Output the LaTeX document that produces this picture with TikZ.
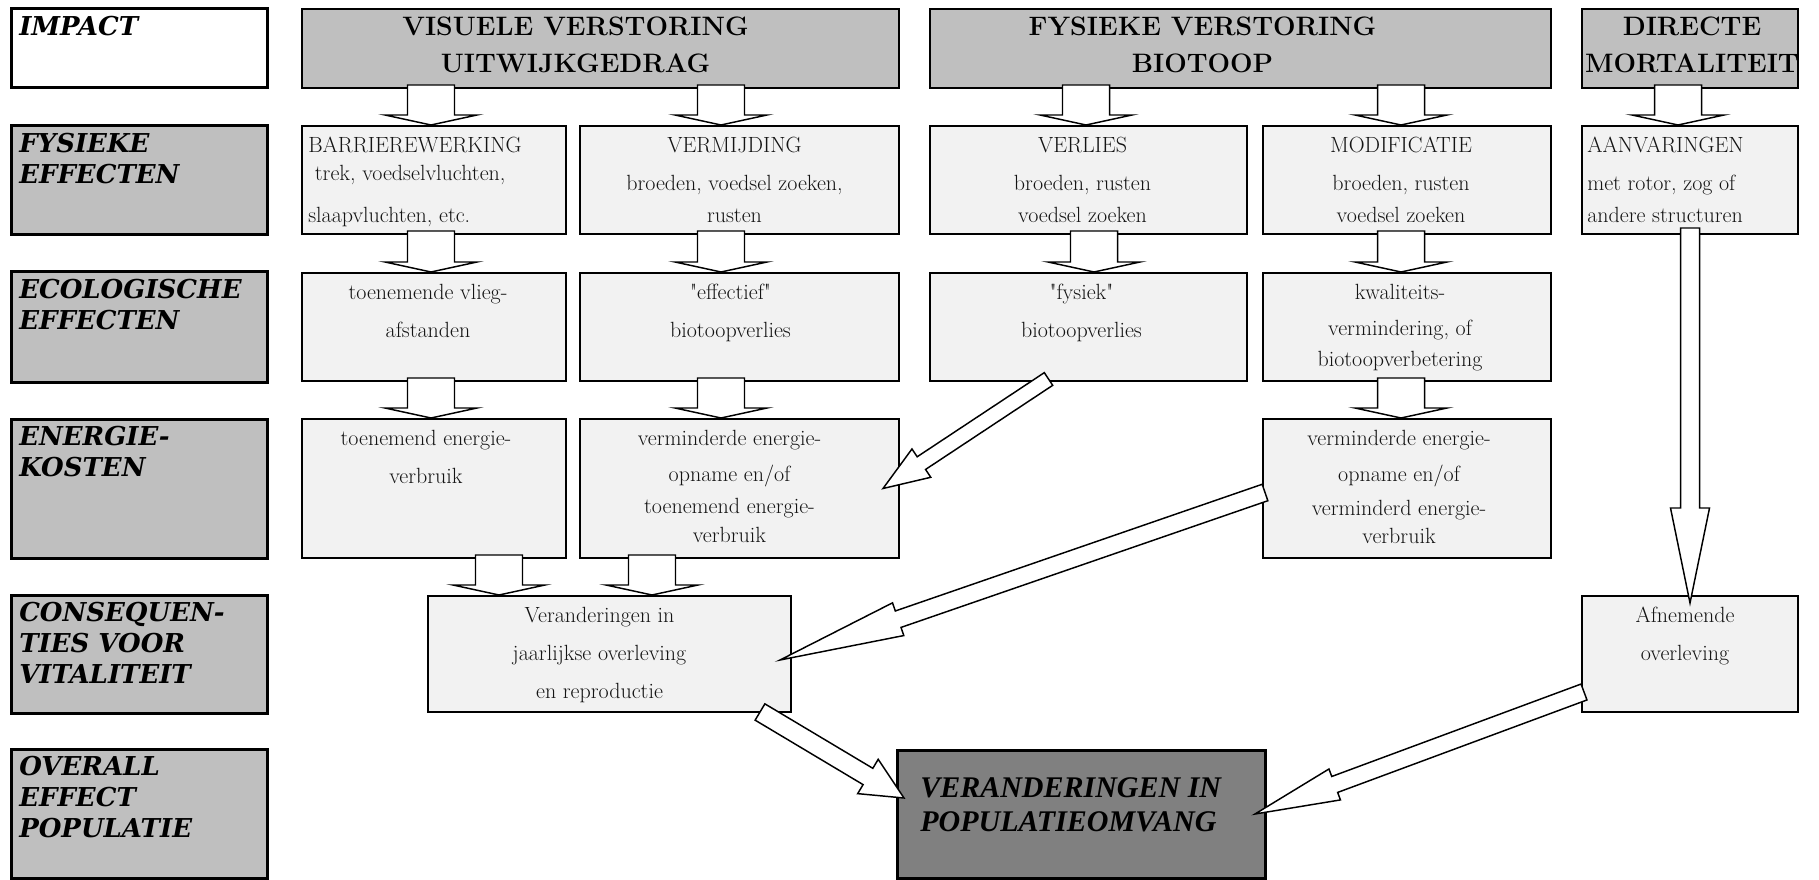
\documentclass[tikz,border=0pt]{standalone}
\usepackage{fontspec}
\usepackage{xcolor}
\usetikzlibrary{calc,fit}

\newfontfamily\labelfont{DejaVu Serif}
\newfontfamily\popfont{Liberation Serif}

\definecolor{boxgray}{RGB}{191,191,191}
\definecolor{cellgray}{RGB}{242,242,242}
\definecolor{popgray}{RGB}{128,128,128}
\definecolor{inkgray}{RGB}{20,20,20}

%Block arrow: tail, tip, half shaft, half head, head length (px)
\newcommand{\blockarrow}[5]{%
  \coordinate (ba-a) at #1;
  \coordinate (ba-b) at #2;
  \coordinate (ba-h) at ($(ba-b)!#5*0.75pt!(ba-a)$);
  \draw [hollow] ($(ba-a)!#3*0.75pt!90:(ba-b)$) -- ($(ba-h)!#3*0.75pt!90:(ba-b)$) -- ($(ba-h)!#4*0.75pt!90:(ba-b)$) -- (ba-b) -- ($(ba-h)!#4*0.75pt!-90:(ba-b)$) -- ($(ba-h)!#3*0.75pt!-90:(ba-b)$) -- ($(ba-a)!#3*0.75pt!-90:(ba-b)$) -- cycle ;}
%Short down arrow: upper node, lower node, x offset from lower centre
\newcommand{\dnarrow}[3]{%
  \coordinate (da-b) at ($(#2.north)+(#3,-1)$);
  \blockarrow{($(da-b |- #1.south)+(0,-3)$)}{(da-b)}{23.5}{46}{10}}

\begin{document}
\begin{tikzpicture}[x=0.75pt,y=0.75pt,yscale=-1,xscale=1,
  labelbox/.style={draw, line width=2.25pt, fill=boxgray, inner sep=0pt, outer sep=0pt},
  headbox/.style={draw, line width=1.6pt, fill=boxgray, inner sep=0pt, outer sep=0pt},
  cellbox/.style={draw, line width=1.5pt, fill=cellgray, inner sep=0pt, outer sep=0pt},
  hollow/.style={draw, line width=1.1pt, fill=white, line join=miter},
  labeltext/.style={anchor=north west, inner sep=0pt, align=left, font=\labelfont\bfseries\itshape\fontsize{19.5}{23.25}\selectfont},
  headtext/.style={anchor=north, inner sep=0pt, align=center, font=\bfseries\fontsize{20}{27.75}\selectfont},
  celltext/.style={anchor=north, inner sep=0pt, align=center, text=inkgray, font=\fontsize{16.5}{28.5}\selectfont},
  poptext/.style={anchor=north west, inner sep=0pt, align=left, font=\popfont\bfseries\itshape\fontsize{22.5}{25.5}\selectfont}]
\useasboundingbox (0,0) rectangle (1819,880);

%Row labels
\node [labelbox, fill=white, fit={(11,9) (267,88)}] (impact) {};
\node [labelbox, fit={(11,126) (267,235)}] (fysiek-l) {};
\node [labelbox, fit={(11,272) (267,382)}] (ecol-l) {};
\node [labelbox, fit={(11,419) (267,558)}] (energie-l) {};
\node [labelbox, fit={(11,595) (267,713)}] (conseq-l) {};
\node [labelbox, fit={(11,749) (267,878)}] (overall-l) {};

%Impact headers
\node [headbox, fit={(302,9) (899,88)}] (visuele) {};
\node [headbox, fit={(930,9) (1551,88)}] (fysver) {};
\node [headbox, fit={(1582,9) (1798,88)}] (directe) {};

%Fysieke effecten
\node [cellbox, fit={(302,126) (566,234)}] (barr) {};
\node [cellbox, fit={(580,126) (899,234)}] (verm) {};
\node [cellbox, fit={(930,126) (1247,234)}] (verlies) {};
\node [cellbox, fit={(1263,126) (1551,234)}] (modif) {};
\node [cellbox, fit={(1582,126) (1798,234)}] (aanv) {};

%Ecologische effecten
\node [cellbox, fit={(302,273) (566,381)}] (vlieg) {};
\node [cellbox, fit={(580,273) (899,381)}] (effect) {};
\node [cellbox, fit={(930,273) (1247,381)}] (fysiek) {};
\node [cellbox, fit={(1263,273) (1551,381)}] (kwal) {};

%Energiekosten
\node [cellbox, fit={(302,419) (566,558)}] (verbr) {};
\node [cellbox, fit={(580,419) (899,558)}] (opname) {};
\node [cellbox, fit={(1263,419) (1551,558)}] (opname2) {};

%Consequenties
\node [cellbox, fit={(428,596) (791,712)}] (verand) {};
\node [cellbox, fit={(1582,596) (1798,712)}] (afn) {};

%Overall effect
\node [labelbox, fill=popgray, fit={(897,750) (1265,878)}] (pop) {};

%Short arrows
\dnarrow{visuele}{barr}{-3}
\dnarrow{visuele}{verm}{-18.5}
\dnarrow{fysver}{verlies}{-2.5}
\dnarrow{fysver}{modif}{-6}
\dnarrow{directe}{aanv}{-12}
\dnarrow{barr}{vlieg}{-3}
\dnarrow{verm}{effect}{-18.5}
\dnarrow{verlies}{fysiek}{5.5}
\dnarrow{modif}{kwal}{-6}
\dnarrow{vlieg}{verbr}{-3}
\dnarrow{effect}{opname}{-18.5}
\dnarrow{kwal}{opname2}{-6}
\dnarrow{verbr}{verand}{-110.5}
\dnarrow{opname}{verand}{42.5}

%Long arrows
\blockarrow{($(fysiek.south)+(-40,-2)$)}{($(opname.east)+(-16,0)$)}{7.6}{17}{46}
\blockarrow{($(opname2.west)+(2,4)$)}{($(verand.east)+(-11,6)$)}{8.7}{17.3}{125}
\blockarrow{($(verand.south east)+(-31,0)$)}{($(pop.west)+(7,-16)$)}{9.5}{20}{42}
\blockarrow{($(afn.south west)+(2,-20)$)}{($(pop.east)+(-10,0)$)}{8.5}{16.5}{85}
\blockarrow{($(aanv.south)+(0,-6)$)}{($(afn.north)+(0,7)$)}{9.5}{19.5}{95}

% Text Nodes
\node [labeltext] (impact-t) at ($(impact.north west)+(8,5)$) {\strut IMPACT};
\node [labeltext] (fysiek-lt) at ($(fysiek-l.north west)+(8,5)$) {\strut FYSIEKE\\EFFECTEN};
\node [labeltext] (ecol-lt) at ($(ecol-l.north west)+(8,5)$) {\strut ECOLOGISCHE\\EFFECTEN};
\node [labeltext] (energie-lt) at ($(energie-l.north west)+(8,5)$) {\strut ENERGIE-\\KOSTEN};
\node [labeltext] (conseq-lt) at ($(conseq-l.north west)+(8,5)$) {\strut CONSEQUEN-\\TIES VOOR\\VITALITEIT};
\node [labeltext] (overall-lt) at ($(overall-l.north west)+(8,5)$) {\strut OVERALL\\EFFECT\\POPULATIE};

\node [headtext] (visuele-t) at ($(visuele.north)+(-25,0)$) {\strut VISUELE VERSTORING\\UITWIJKGEDRAG};
\node [headtext] (fysver-t) at ($(fysver.north)+(-38,0)$) {\strut FYSIEKE VERSTORING\\BIOTOOP};
\node [headtext] (directe-t) at ($(directe.north)+(2,0)$) {\strut DIRECTE\\MORTALITEIT};

\node [celltext, anchor=north west, align=left] (barr-t) at ($(barr.north west)+(6,0)$) {\strut BARRIEREWERKING\\[-7.5pt]\hspace*{5pt}trek, voedselvluchten,\\[3pt]slaapvluchten, etc.};
\node [celltext] (verm-t) at ($(verm.north)+(-5,0)$) {\strut VERMIJDING\\broeden, voedsel zoeken,\\[-5pt]rusten};
\node [celltext] (verlies-t) at ($(verlies.north)+(-6,0)$) {\strut VERLIES\\broeden, rusten\\[-5pt]voedsel zoeken};
\node [celltext] (modif-t) at ($(modif.north)+(-6,0)$) {\strut MODIFICATIE\\broeden, rusten\\[-5pt]voedsel zoeken};
\node [celltext, anchor=north west, align=left] (aanv-t) at ($(aanv.north west)+(5,0)$) {\strut AANVARINGEN\\met rotor, zog of\\[-5pt]andere structuren};

\node [celltext] (vlieg-t) at ($(vlieg.north)+(-6,0)$) {\strut toenemende vlieg-\\afstanden};
\node [celltext] (effect-t) at ($(effect.north)+(-9,0)$) {\strut \textquotedbl effectief\textquotedbl\\biotoopverlies};
\node [celltext] (fysiek-t) at ($(fysiek.north)+(-7,0)$) {\strut \textquotedbl fysiek\textquotedbl\\biotoopverlies};
\node [celltext] (kwal-t) at ($(kwal.north)+(-7,0)$) {\strut kwaliteits-\\[-2pt]vermindering, of\\[-5pt]biotoopverbetering};

\node [celltext] (verbr-t) at ($(verbr.north)+(-8,0)$) {\strut toenemend energie-\\verbruik};
\node [celltext] (opname-t) at ($(opname.north)+(-10,0)$) {\strut verminderde energie-\\[-1.5pt]opname en/of\\[-4.5pt]toenemend energie-\\[-7pt]verbruik};
\node [celltext] (opname2-t) at ($(opname2.north)+(-8,0)$) {\strut verminderde energie-\\[-1.5pt]opname en/of\\[-3pt]verminderd energie-\\[-7.5pt]verbruik};

\node [celltext] (verand-t) at ($(verand.north)+(-10,0)$) {\strut Veranderingen in\\jaarlijkse overleving\\en reproductie};
\node [celltext] (afn-t) at ($(afn.north)+(-5,0)$) {\strut Afnemende\\overleving};

\node [poptext] (pop-t) at ($(pop.north west)+(23,23)$) {\strut VERANDERINGEN IN\\POPULATIEOMVANG};

\end{tikzpicture}
\end{document}
